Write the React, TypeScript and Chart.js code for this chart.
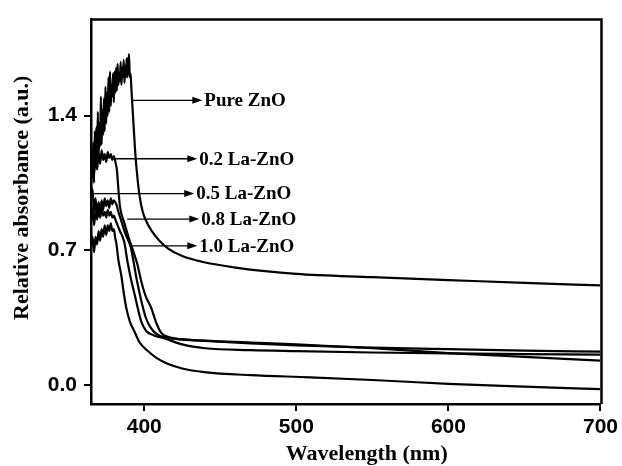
import { useEffect, useRef } from "react";
import { Chart, registerables } from "chart.js";

Chart.register(...registerables);

// ---------- data ----------
const pureX = [
  365, 365.5, 366, 366.5, 367, 367.5, 368, 368.5, 369, 369.5, 370, 370.5, 371, 371.5, 372, 372.5,
  373, 373.5, 374, 374.5, 375, 375.5, 376, 376.5, 377, 377.5, 378, 378.5, 379, 379.5, 380, 380.5,
  381, 381.5, 382, 382.5, 383, 383.5, 384, 384.5, 385, 385.5, 386, 386.5, 387, 387.5, 388, 388.5,
  389, 389.5, 390, 390.5, 391, 391.5, 392, 393, 394, 395, 397, 399, 402, 405, 410, 416, 425, 438,
  460, 500, 550, 600, 650, 700,
];
const pureY = [
  1.0, 1.22, 1.08, 1.26, 1.05, 1.32, 1.14, 1.34, 1.17, 1.42, 1.18, 1.36, 1.24, 1.5, 1.25, 1.43,
  1.3, 1.49, 1.32, 1.55, 1.36, 1.52, 1.4, 1.6, 1.42, 1.63, 1.45, 1.56, 1.5, 1.62, 1.47, 1.63,
  1.52, 1.65, 1.53, 1.67, 1.56, 1.62, 1.58, 1.68, 1.56, 1.65, 1.6, 1.69, 1.57, 1.66, 1.6, 1.7,
  1.6, 1.67, 1.72, 1.6, 1.62, 1.55, 1.48, 1.35, 1.22, 1.12, 0.98, 0.9, 0.84, 0.8, 0.75, 0.707, 0.67, 0.64,
  0.61, 0.577, 0.56, 0.545, 0.53, 0.517,
];

const la02X = [
  365, 366, 367, 368, 369, 370, 371, 372, 373, 374, 375, 376, 377, 378, 379, 380, 381, 382,
  383, 384, 387, 390, 393, 395.4, 398, 401, 404.6, 408, 411.2, 416, 425, 440, 470, 500, 550, 600, 650, 700,
];
const la02Y = [
  1.05, 1.15, 1.1, 1.18, 1.12, 1.2, 1.15, 1.22, 1.17, 1.2, 1.16, 1.21, 1.18, 1.2, 1.17, 1.19, 1.16, 1.12,
  1.02, 0.93, 0.84, 0.76, 0.69, 0.63, 0.54, 0.46, 0.4, 0.32, 0.27, 0.248, 0.236, 0.228, 0.215, 0.205, 0.193, 0.185, 0.178, 0.172,
];

const la05X = [
  365, 366, 367, 368, 369, 370, 371, 372, 373, 374, 375, 376, 377, 378, 379, 380, 381, 382,
  383, 385, 387, 389, 391, 393, 395, 398, 401, 404, 408, 415, 440, 470, 500, 550, 600, 650, 700,
];
const la05Y = [
  0.98, 1.02, 0.9, 0.97, 0.88, 0.95, 0.9, 0.96, 0.91, 0.97, 0.93, 0.96, 0.92, 0.97, 0.94, 0.96, 0.95, 0.93,
  0.9, 0.85, 0.8, 0.76, 0.72, 0.64, 0.55, 0.44, 0.35, 0.3, 0.265, 0.245, 0.23, 0.22, 0.21, 0.19, 0.165, 0.145, 0.126,
];

const la08X = [
  365, 366, 367, 368, 369, 370, 371, 372, 373, 374, 375, 376, 377, 378, 379, 380, 381, 382,
  384, 386.8, 389, 391, 393.4, 396, 398, 401.3, 406, 413, 425, 440, 470, 500, 550, 600, 650, 700,
];
const la08Y = [
  0.85, 0.92, 0.83, 0.9, 0.86, 0.91, 0.87, 0.92, 0.88, 0.9, 0.87, 0.91, 0.88, 0.9, 0.87, 0.88, 0.86, 0.84,
  0.8, 0.745, 0.64, 0.56, 0.48, 0.39, 0.33, 0.28, 0.258, 0.242, 0.21, 0.19, 0.18, 0.175, 0.168, 0.163, 0.16, 0.157,
];

const la10X = [
  365, 366, 367, 368, 369, 370, 371, 372, 373, 374, 375, 376, 377, 378, 379, 380, 381, 381.6,
  383, 384.9, 386.5, 388.2, 390.5, 393.4, 397, 402, 408, 415, 425, 439.5, 470, 509, 550, 600, 650, 700,
];
const la10Y = [
  0.72, 0.77, 0.69, 0.77, 0.73, 0.8, 0.75, 0.81, 0.77, 0.83, 0.78, 0.83, 0.8, 0.84, 0.8, 0.81, 0.76, 0.74,
  0.65, 0.57, 0.48, 0.4, 0.33, 0.28, 0.22, 0.178, 0.14, 0.111, 0.085, 0.066, 0.05, 0.039, 0.025, 0.005, -0.01, -0.023,
];

const seriesNames = ["Pure ZnO", "0.2 La-ZnO", "0.5 La-ZnO", "0.8 La-ZnO", "1.0 La-ZnO"];
const seriesX = [pureX, la02X, la05X, la08X, la10X];
const seriesY = [pureY, la02Y, la05Y, la08Y, la10Y];

// arrow annotations (data units)
const labelY = [1.48, 1.176, 0.995, 0.862, 0.723];
const arrowStartX = [392.1, 380.3, 365.8, 388.8, 392.1];
const arrowTipX = [438.2, 434.9, 432.9, 436.2, 434.9];

const xTicks = [400, 500, 600, 700];
const yTicks = [0, 0.7, 1.4];
const xTitle = "Wavelength (nm)";
const yTitle = "Relative absorbance (a.u.)";

const tickFont = { family: "'Liberation Sans', Arial, sans-serif", size: 21, weight: "bold" as const };

export default function App() {
  const ref = useRef<HTMLCanvasElement | null>(null);

  useEffect(() => {
    document.body.style.margin = "0";
    const canvas = ref.current;
    if (!canvas) return;

    const framePlugin = {
      id: "frame",
      afterDatasetsDraw(chart: any) {
        const { ctx, chartArea: a } = chart;
        ctx.save();
        ctx.strokeStyle = "#000";
        ctx.lineWidth = 2.5;
        ctx.beginPath();
        ctx.moveTo(a.left, a.top);
        ctx.lineTo(a.right + 1, a.top);
        ctx.lineTo(a.right + 1, a.bottom);
        ctx.stroke();
        ctx.restore();
      },
    };

    const annoPlugin = {
      id: "anno",
      afterDatasetsDraw(chart: any) {
        const { ctx } = chart;
        const xs = chart.scales.x;
        const ys = chart.scales.y;
        ctx.save();
        ctx.strokeStyle = "#000";
        ctx.fillStyle = "#000";
        ctx.lineWidth = 1.3;
        ctx.font = "bold 19px 'Liberation Serif', 'Times New Roman', serif";
        ctx.textBaseline = "middle";
        ctx.textAlign = "left";
        seriesNames.forEach((name, i) => {
          const y = ys.getPixelForValue(labelY[i]);
          const x1 = xs.getPixelForValue(arrowStartX[i]);
          const x2 = xs.getPixelForValue(arrowTipX[i]);
          ctx.beginPath();
          ctx.moveTo(x1, y);
          ctx.lineTo(x2 - 6, y);
          ctx.stroke();
          ctx.beginPath();
          ctx.moveTo(x2, y);
          ctx.lineTo(x2 - 10, y - 3.5);
          ctx.lineTo(x2 - 10, y + 3.5);
          ctx.closePath();
          ctx.fill();
          ctx.fillText(name, x2 + 2, y + 1);
        });
        ctx.restore();
      },
    };

    const titlePlugin = {
      id: "titles",
      afterDraw(chart: any) {
        const { ctx, chartArea: a } = chart;
        ctx.save();
        ctx.fillStyle = "#000";
        ctx.font = "bold 22px 'Liberation Serif', 'Times New Roman', serif";
        ctx.textAlign = "center";
        ctx.textBaseline = "middle";
        ctx.fillText(xTitle, (a.left + a.right) / 2 + 21, 454);
        ctx.translate(22, (a.top + a.bottom) / 2 - 14);
        ctx.rotate(-Math.PI / 2);
        ctx.fillText(yTitle, 0, 0);
        ctx.restore();
      },
    };

    const chart = new Chart(canvas, {
      type: "line",
      data: {
        datasets: seriesNames.map((name, i) => ({
          label: name,
          data: seriesX[i].map((x, j) => ({ x, y: seriesY[i][j] })),
          borderColor: "#000",
          borderWidth: 2.2,
          pointRadius: 0,
          fill: false,
          cubicInterpolationMode: "monotone" as const,
        })),
      },
      options: {
        animation: false,
        responsive: false,
        devicePixelRatio: 1,
        layout: { padding: { left: 0, top: 15, right: 21, bottom: 0 } },
        plugins: { legend: { display: false }, tooltip: { enabled: false } },
        scales: {
          x: {
            type: "linear",
            min: 365,
            max: 700,
            afterFit: (s: any) => {
              s.height = 62;
            },
            afterBuildTicks: (s: any) => {
              s.ticks = xTicks.map((v) => ({ value: v }));
            },
            ticks: { font: tickFont, color: "#000", padding: 4, maxRotation: 0, callback: (v: any) => String(v) },
            grid: { display: true, drawOnChartArea: false, drawTicks: true, tickLength: 7, color: "#000", lineWidth: 2 },
            border: { display: true, color: "#000", width: 2.5 },
          },
          y: {
            type: "linear",
            min: -0.1,
            max: 1.9,
            afterFit: (s: any) => {
              s.width = 91;
            },
            afterBuildTicks: (s: any) => {
              s.ticks = yTicks.map((v) => ({ value: v }));
            },
            ticks: { font: tickFont, color: "#000", padding: 7, callback: (v: any) => Number(v).toFixed(1) },
            grid: { display: true, drawOnChartArea: false, drawTicks: true, tickLength: 7, color: "#000", lineWidth: 2 },
            border: { display: true, color: "#000", width: 2.5 },
          },
        },
      },
      plugins: [framePlugin, annoPlugin, titlePlugin],
    });

    return () => chart.destroy();
  }, []);

  return (
    <div style={{ width: 622, height: 466, background: "#fff" }}>
      <canvas ref={ref} width={622} height={466} style={{ display: "block", width: 622, height: 466 }} />
    </div>
  );
}
